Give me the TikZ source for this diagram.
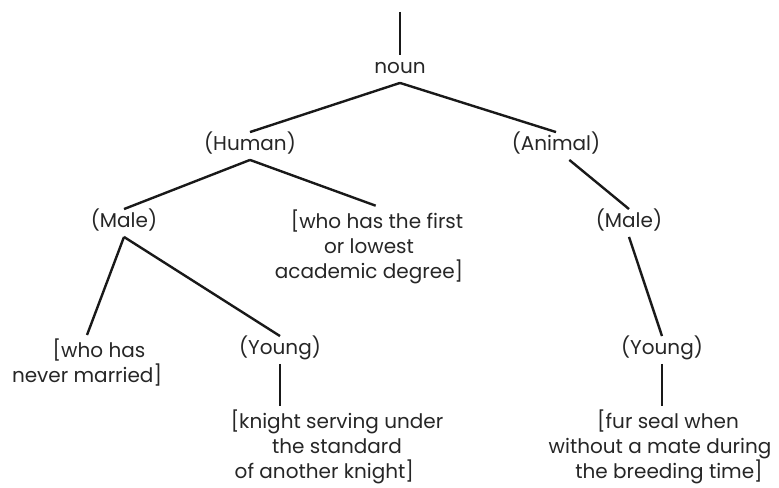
\documentclass[tikz,border=0pt]{standalone}
\usepackage{fontspec}
\setmainfont{Poppins}

\begin{document}
\begin{tikzpicture}[x=0.75pt, y=-0.75pt,
    every node/.style={font=\fontsize{15}{18.75}\selectfont, text=black!85, inner xsep=0pt, inner ysep=3pt},
    word/.style={text height=11pt, text depth=3.5pt},
    gloss/.style={align=center},
    branch/.style={line width=1.8pt, black!90}]
  \useasboundingbox (0,0) rectangle (779,488);
  \coordinate (top) at (400,12);
  \node[word] (noun) at (400,69) {noun};
  \node[word] (human) at (250,146) {(Human)};
  \node[word] (animal) at (556,146) {(Animal)};
  \node[word] (maleL) at (124,223) {(Male)};
  \node[gloss] (degree) at (369,247)
    {\hspace*{12pt}[who has the first\\or lowest\hspace*{33pt}\\academic degree]};
  \node[word] (maleR) at (629,223) {(Male)};
  \node[gloss] (unwed) at (87,363)
    {\hspace*{18pt}[who has\\never married]};
  \node[word] (youngL) at (280,350) {(Young)};
  \node[word] (youngR) at (662,350) {(Young)};
  \node[gloss] (knight) at (337,447)
    {[knight serving under\\the standard\hspace*{21pt}\\of another knight]\hspace*{19pt}};
  \node[gloss] (seal) at (660,447)
    {\hspace*{12pt}[fur seal when\\without a mate during\\\hspace*{13.5pt}the breeding time]};

  \draw[branch] (top) -- (noun.north);
  \draw[branch] (noun.south) -- (human.north);
  \draw[branch] (noun.south) -- (animal.north);
  \draw[branch] (human.south) -- (maleL.north);
  \draw[branch] (human.south) -- ([xshift=5pt]degree.north);
  \draw[branch] ([xshift=10pt]animal.south) -- (maleR.north);
  \draw[branch] (maleL.south) -- (unwed.north);
  \draw[branch] (maleL.south) -- (youngL.north);
  \draw[branch] (maleR.south) -- (youngR.north);
  \draw[branch] (youngL.south) -- (youngL.south |- knight.north);
  \draw[branch] (youngR.south) -- (youngR.south |- seal.north);
\end{tikzpicture}
\end{document}
